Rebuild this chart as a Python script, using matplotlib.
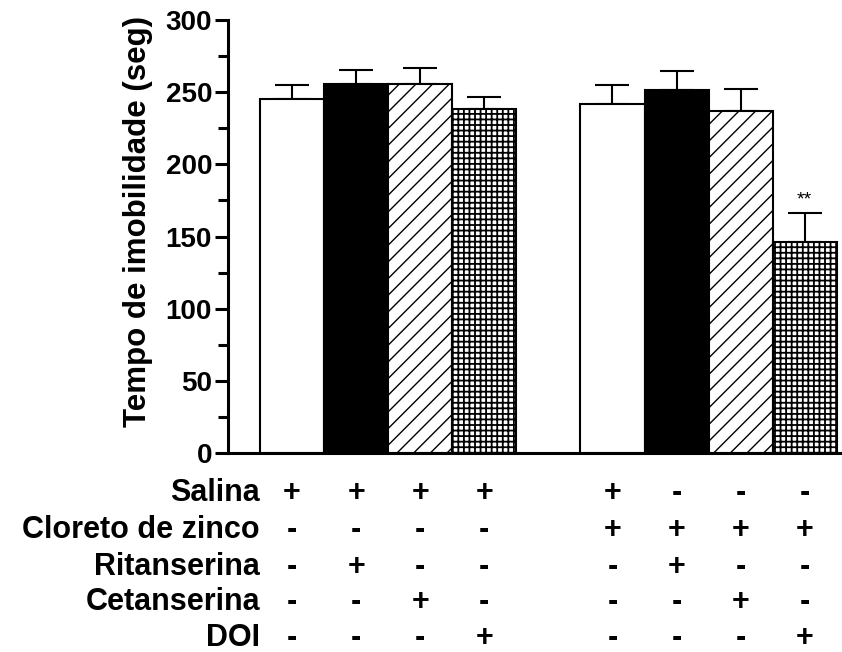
import matplotlib
matplotlib.use("Agg")
import matplotlib.pyplot as plt
import matplotlib.transforms as mtransforms
import numpy as np

plt.rcParams['font.family'] = ['Liberation Sans', 'DejaVu Sans']
plt.rcParams['font.weight'] = 'bold'

# dados
medias = [245, 255.5, 255.5, 238.5, 242, 251.5, 237, 146.5]
erros = [10, 10, 11.5, 8, 13, 13, 15, 20]
posicoes = [1, 2, 3, 4, 6, 7, 8, 9]
cores = ['white', 'black', 'white', 'white', 'white', 'black', 'white', 'white']
hachuras = [None, None, '//', '+++', None, None, '//', '+++']

linhas = ['Salina', 'Cloreto de zinco', 'Ritanserina', 'Cetanserina', 'DOI']
tabela = [
    ['+', '+', '+', '+', '+', '-', '-', '-'],
    ['-', '-', '-', '-', '+', '+', '+', '+'],
    ['-', '+', '-', '-', '-', '+', '-', '-'],
    ['-', '-', '+', '-', '-', '-', '+', '-'],
    ['-', '-', '-', '+', '-', '-', '-', '+'],
]

fig = plt.figure(figsize=(8.42, 6.52), dpi=100)
ax = fig.add_axes([0.2708, 0.3052, 0.7268, 0.6641])

for x, m, e, c, h in zip(posicoes, medias, erros, cores, hachuras):
    plt.rcParams['hatch.linewidth'] = 1.0 if h == '//' else 1.3
    b = ax.bar(x, m, width=1.0, color=c, edgecolor='black', linewidth=1.5,
               hatch=h, zorder=2)
    ax.errorbar(x, m, yerr=[[0], [e]], fmt='none', ecolor='black',
                elinewidth=1.5, capsize=12, capthick=1.5, zorder=1)

# significancia
ax.text(posicoes[7], medias[7] + erros[7] + 3, '**', ha='center', va='bottom',
        fontsize=14, fontweight='normal')

ax.set_xlim(0, 9.55)
ax.set_ylim(0, 300)
ax.set_yticks(np.arange(0, 301, 50))
ax.set_yticks(np.arange(0, 301, 25), minor=True)
ax.set_xticks([])
ax.spines['top'].set_visible(False)
ax.spines['right'].set_visible(False)
ax.spines['left'].set_linewidth(2.2)
ax.spines['bottom'].set_linewidth(2.2)
ax.tick_params(axis='y', which='major', length=9.5, width=2.2, labelsize=20, pad=2)
ax.tick_params(axis='y', which='minor', length=7, width=2.2)
ax.set_ylabel('Tempo de imobilidade (seg)', fontsize=22.5, fontweight='bold')
ax.yaxis.set_label_coords(-0.123, 0.535)

# tabela de tratamentos
trans = mtransforms.blended_transform_factory(ax.transData, fig.transFigure)
ys = [493, 530, 567, 602, 638]
for nome, linha, yp in zip(linhas, tabela, ys):
    yf = 1 - yp / 652
    fig.text(260 / 842, yf, nome, ha='right', va='center', fontsize=22, fontweight='bold')
    for x, s in zip(posicoes, linha):
        ax.text(x, yf, s, transform=trans, ha='center', va='center',
                fontsize=22, fontweight='bold', clip_on=False)

fig.savefig('out.png', dpi=100)
